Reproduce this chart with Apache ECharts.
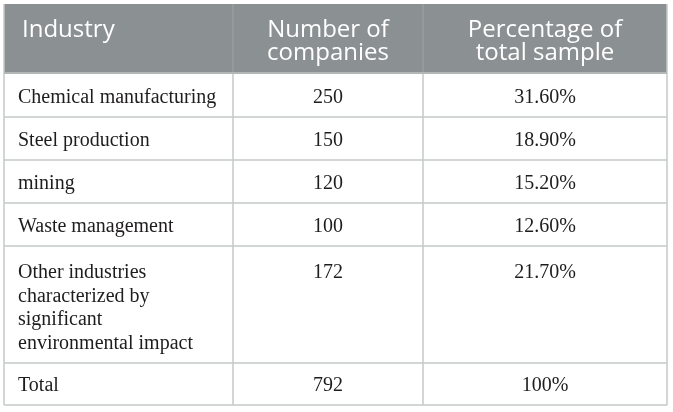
<!DOCTYPE html>
<html>
<head>
<meta charset="utf-8">
<script src="https://cdn.jsdelivr.net/npm/echarts@6/dist/echarts.min.js"></script>
<style>
  html, body { margin: 0; padding: 0; background: #fff; }
  #table { width: 673px; height: 412px; }
</style>
</head>
<body>
<div id="table"></div>
<script>
// Table contents
const headers = ['Industry', 'Number of\ncompanies', 'Percentage of\ntotal sample'];
const industries = [
  'Chemical manufacturing',
  'Steel production',
  'mining',
  'Waste management',
  'Other industries\ncharacterized by\nsignificant\nenvironmental impact',
  'Total'
];
const companies = ['250', '150', '120', '100', '172', '792'];
const percentages = ['31.60%', '18.90%', '15.20%', '12.60%', '21.70%', '100%'];

// Layout (pixel edges of columns and rows)
const colEdges = [4, 233, 423, 667];
const rowEdges = [4, 74, 117, 160, 203, 246, 363, 405];
const lineColor = '#c4c8c8';
const headFont = '24px "Open Sans"';
const bodyFont = '20px "Liberation Serif"';

var chartDom = document.getElementById('table');
var myChart = echarts.init(chartDom, null, { renderer: 'canvas' });

const elements = [];

// header background
elements.push({
  type: 'rect',
  shape: { x: colEdges[0], y: rowEdges[0], width: colEdges[3] - colEdges[0], height: rowEdges[1] - rowEdges[0] },
  style: { fill: '#8b9192' }
});

// header texts
headers.forEach((h, c) => {
  const left = c === 0;
  elements.push({
    type: 'text',
    style: {
      text: h,
      x: left ? colEdges[0] + 18 : (colEdges[c] + colEdges[c + 1]) / 2,
      y: rowEdges[0] + 15,
      font: headFont,
      fill: '#ffffff',
      textAlign: left ? 'left' : 'center',
      textVerticalAlign: 'top',
      lineHeight: 23
    }
  });
});

// body rows
const columns = [industries, companies, percentages];
industries.forEach((_, r) => {
  const top = rowEdges[r + 1];
  const bottom = rowEdges[r + 2];
  const multi = industries[r].indexOf('\n') >= 0;
  columns.forEach((col, c) => {
    const left = c === 0;
    elements.push({
      type: 'text',
      style: {
        text: col[r],
        x: left ? colEdges[0] + 14 : (colEdges[c] + colEdges[c + 1]) / 2,
        y: multi ? top + 15 : (top + bottom) / 2 + 2,
        font: bodyFont,
        fill: '#1f1c1d',
        textAlign: left ? 'left' : 'center',
        textVerticalAlign: multi ? 'top' : 'middle',
        lineHeight: 23.5
      }
    });
  });
});

// grid lines
rowEdges.slice(2).forEach((y) => {
  elements.push({
    type: 'line',
    shape: { x1: colEdges[0], y1: y, x2: colEdges[3], y2: y },
    style: { stroke: lineColor, lineWidth: 1.5 }
  });
});
colEdges.forEach((x, i) => {
  elements.push({
    type: 'line',
    shape: { x1: x, y1: i === 0 || i === 3 ? rowEdges[0] : rowEdges[1], x2: x, y2: rowEdges[rowEdges.length - 1] },
    style: { stroke: lineColor, lineWidth: 1.5 }
  });
});
// header dividers and bottom edge
colEdges.slice(1, 3).forEach((x) => {
  elements.push({
    type: 'line',
    shape: { x1: x, y1: rowEdges[0], x2: x, y2: rowEdges[1] },
    style: { stroke: '#9ea3a4', lineWidth: 1 }
  });
});
elements.push({
  type: 'line',
  shape: { x1: colEdges[0], y1: rowEdges[1] - 1, x2: colEdges[3], y2: rowEdges[1] - 1 },
  style: { stroke: '#b3b7b7', lineWidth: 2 }
});

var option = {
  backgroundColor: '#ffffff',
  animation: false,
  graphic: { elements: elements }
};

option && myChart.setOption(option);
</script>
</body>
</html>
